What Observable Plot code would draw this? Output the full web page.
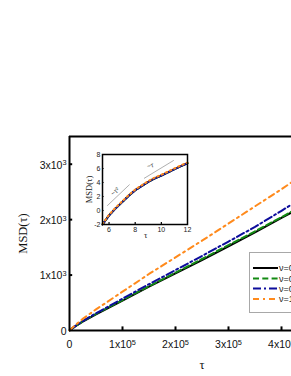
<!DOCTYPE html>
<html><head><meta charset="utf-8">
<script src="https://cdn.jsdelivr.net/npm/d3@7"></script>
<script src="https://cdn.jsdelivr.net/npm/@observablehq/plot@0.6"></script>
<style>
html,body{margin:0;padding:0;overflow:hidden;background:#fff;width:291px;height:376px}
#wrap{position:relative;width:291px;height:376px;overflow:hidden}
#main,#inset,#legend{position:absolute}
#main{left:0;top:0}
#inset{left:77px;top:146px}
#legend{left:249px;top:252px;width:70px;height:61px;border:1px solid #a8a8a8;background:#fff;box-sizing:border-box}
</style></head><body><div id="wrap"><div id="main"></div><div id="inset"></div><div id="legend"></div></div>
<script>
// ---- main chart data ----
const tau = [0, 10000, 25000, 50000, 100000, 150000, 200000, 250000, 300000, 350000, 400000, 420000];
const msdBlack  = [0, 70, 160, 290, 540, 790, 1030, 1270, 1520, 1770, 2030, 2135];
const msdGreen  = [0, 72, 165, 300, 550, 800, 1045, 1290, 1540, 1790, 2045, 2150];
const msdBlue   = [0, 75, 170, 310, 575, 835, 1090, 1345, 1605, 1870, 2160, 2280];
const msdOrange = [0, 90, 210, 380, 700, 1020, 1320, 1620, 1930, 2240, 2550, 2680];
const seriesNames  = ["ν=0", "ν=0.1", "ν=0.5", "ν=1"];
const seriesColors = ["#000000", "#138a13", "#0d0d9c", "#ff8a1c"];
const seriesDash   = [null, "6,3.3", "8,3,2,3", "6,4,2,4"];
const xTicks = [0, 100000, 200000, 300000, 400000];
const xTickLabels = ["0", "1x10^5", "2x10^5", "3x10^5", "4x10^5"];
const yTicks = [0, 1000, 2000, 3000];
const yTickLabels = ["0", "1x10^3", "2x10^3", "3x10^3"];

// ---- inset data ----
const insetTau = [5.5, 6, 6.5, 7, 7.5, 8, 8.5, 9, 9.5, 10, 10.5, 11, 11.5, 12];
const insetMsd = [-2, -0.7, 0.3, 1.2, 2.1, 2.9, 3.5, 4.1, 4.6, 5.0, 5.45, 5.9, 6.35, 6.75];
const insetMsdOrange = [-1.95, -0.6, 0.4, 1.3, 2.2, 3.0, 3.6, 4.2, 4.7, 5.1, 5.55, 6.0, 6.45, 6.85];
const insetXTicks = [6, 8, 10, 12];
const insetYTicks = [-2, 0, 2, 4, 6, 8];
const guideSq = {x: [5.88, 7.55], y: [0.71, 3.67]};
const guideLin = {x: [8.7, 10.93], y: [4.61, 7.14]};

const allMsd = [msdBlack, msdGreen, msdBlue, msdOrange];
const rows = [];
seriesNames.forEach((s, i) => tau.forEach((t, j) => rows.push({s, i, t, m: allMsd[i][j]})));

const lineMarks = seriesNames.map((s, i) =>
  Plot.line(rows.filter(d => d.i === i), {x: "t", y: "m", stroke: seriesColors[i], strokeWidth: 2,
    strokeDasharray: seriesDash[i] || undefined}));

const main = Plot.plot({
  width: 291, height: 376,
  marginLeft: 69, marginTop: 136, marginBottom: 46, marginRight: 0,
  x: {domain: [0, 500000], range: [69, 334], axis: null},
  y: {domain: [0, 3500], axis: null},
  style: {fontFamily: "Liberation Sans, Arial, sans-serif", background: "white"},
  marks: [
    ...lineMarks,
    Plot.ruleX([0], {strokeWidth: 2}),
    Plot.ruleY([0], {strokeWidth: 2}),
    Plot.ruleY([3500], {strokeWidth: 2}),
    Plot.ruleX(xTicks.slice(1), {x: d => d, y1: 0, y2: 65, strokeWidth: 2}),
    Plot.ruleY(yTicks.slice(1), {y: d => d, x1: 0, x2: 6000, strokeWidth: 2}),
    Plot.text(xTicks, {x: d => d, y: 0, text: (d, i) => xTickLabels[i], dy: 14, fontSize: 10.5, fill: "#111"}),
    Plot.text(yTicks, {x: 0, y: d => d, text: (d, i) => yTickLabels[i], textAnchor: "end", dx: -3, dy: 1, fontSize: 10.5, fill: "#111"}),
    Plot.text(["MSD(τ)"], {x: -88000, y: 1750, text: d => d, rotate: -90, fontSize: 12.5, fontFamily: "Liberation Serif, Times New Roman, serif", fill: "#111"}),
    Plot.text(["τ"], {x: 250000, y: 0, text: d => d, dy: 34, fontSize: 12.5, fontFamily: "Liberation Serif, Times New Roman, serif", fill: "#111"})
  ]
});
document.getElementById("main").appendChild(main);

// render "a^b" labels with a real superscript
d3.select(main).selectAll("text").each(function() {
  const t = this.textContent;
  if (t.includes("^")) {
    const [base, exp] = t.split("^");
    const el = d3.select(this);
    el.text(null);
    el.append("tspan").text(base);
    el.append("tspan").attr("dy", "-0.45em").attr("font-size", "0.7em").text(exp);
  }
});

const inset = Plot.plot({
  width: 115, height: 94,
  marginLeft: 25, marginTop: 8, marginBottom: 16, marginRight: 5,
  x: {domain: [5.5, 12], axis: null},
  y: {domain: [-2, 8], axis: null},
  style: {fontFamily: "Liberation Sans, Arial, sans-serif", background: "transparent", overflow: "visible"},
  marks: [
    Plot.line(guideSq.x.map((x, i) => ({x, y: guideSq.y[i]})), {x: "x", y: "y", stroke: "#9a9a9a", strokeWidth: 0.8}),
    Plot.line(guideLin.x.map((x, i) => ({x, y: guideLin.y[i]})), {x: "x", y: "y", stroke: "#9a9a9a", strokeWidth: 0.8}),
    Plot.text(["~τ²"], {x: 6.45, y: 2.7, text: d => d, rotate: -40, fontSize: 6.5, fill: "#333"}),
    Plot.text(["~τ"], {x: 9.15, y: 6.4, text: d => d, rotate: -12, fontSize: 6.5, fill: "#333"}),
    Plot.line(insetTau.map((x, i) => ({x, y: insetMsd[i]})), {x: "x", y: "y", stroke: seriesColors[0], strokeWidth: 2}),
    Plot.line(insetTau.map((x, i) => ({x, y: insetMsd[i]})), {x: "x", y: "y", stroke: seriesColors[1], strokeWidth: 2, strokeDasharray: "3,2"}),
    Plot.line(insetTau.map((x, i) => ({x, y: insetMsd[i]})), {x: "x", y: "y", stroke: seriesColors[2], strokeWidth: 2, strokeDasharray: "4,1.5,1.5,1.5"}),
    Plot.line(insetTau.map((x, i) => ({x, y: insetMsdOrange[i]})), {x: "x", y: "y", stroke: seriesColors[3], strokeWidth: 2, strokeDasharray: "1.6,3"}),
    Plot.frame({stroke: "black", strokeWidth: 1.5}),
    Plot.ruleX(insetXTicks.slice(0, 3), {x: d => d, y1: -2, y2: -1.7, strokeWidth: 1.2}),
    Plot.ruleY(insetYTicks.slice(1, 5), {y: d => d, x1: 5.5, x2: 5.62, strokeWidth: 1.2}),
    Plot.text(insetXTicks, {x: d => d, y: -2, text: d => String(d), dy: 5, fontSize: 7, fill: "#222"}),
    Plot.text(insetYTicks, {x: 5.5, y: d => d, text: d => String(d), textAnchor: "end", dx: -2, fontSize: 7, fill: "#222"}),
    Plot.text(["MSD(τ)"], {x: 4.5, y: 3, text: d => d, rotate: -90, fontSize: 8.5, fontFamily: "Liberation Serif, Times New Roman, serif", fill: "#222"}),
    Plot.text(["τ"], {x: 8.8, y: -2, text: d => d, dy: 11, fontSize: 8.5, fontFamily: "Liberation Serif, Times New Roman, serif", fill: "#222"})
  ]
});
document.getElementById("inset").appendChild(inset);

// ---- legend ----
const legendSvg = d3.select("#legend").append("svg").attr("width", 70).attr("height", 60);
const ly = [15, 25.5, 35.5, 46];
seriesNames.forEach((s, i) => {
  const l = legendSvg.append("line").attr("x1", 3).attr("x2", 28).attr("y1", ly[i]).attr("y2", ly[i])
    .attr("stroke", seriesColors[i]).attr("stroke-width", 2);
  if (seriesDash[i]) l.attr("stroke-dasharray", seriesDash[i]);
  legendSvg.append("text").attr("x", 29).attr("y", ly[i]).attr("dy", "0.35em")
    .attr("font-family", "Liberation Sans, Arial, sans-serif").attr("font-size", 9).attr("fill", "#222").text(s);
});
</script></body></html>
